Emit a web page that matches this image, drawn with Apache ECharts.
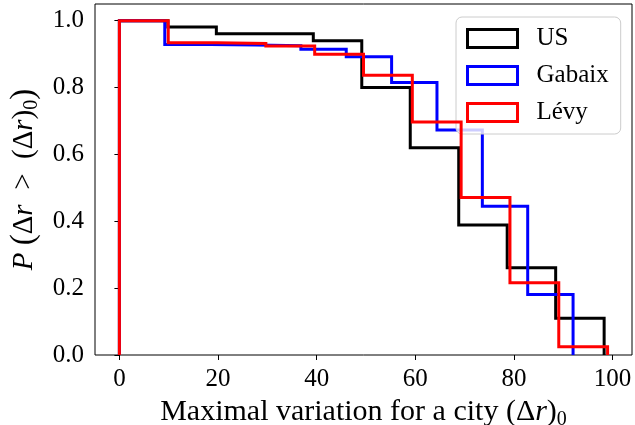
<!DOCTYPE html>
<html>
<head>
<meta charset="utf-8">
<script src="https://cdn.jsdelivr.net/npm/echarts@6/dist/echarts.min.js"></script>
<style>html,body{margin:0;padding:0;background:#fff}#c{width:635px;height:425px}</style>
</head>
<body>
<div id="c"></div>
<script>
// Data (survival histograms, bin edges and heights)
const usEdges = [0, 9.83, 19.66, 29.49, 39.32, 49.15, 58.98, 68.81, 78.64, 88.47, 98.3];
const usValues = [1.0, 0.981, 0.961, 0.961, 0.940, 0.800, 0.620, 0.389, 0.261, 0.110];
const gabaixEdges = [0, 9.2, 18.4, 27.6, 36.8, 46.0, 55.2, 64.4, 73.6, 82.8, 92.0];
const gabaixValues = [1.0, 0.929, 0.927, 0.925, 0.915, 0.892, 0.815, 0.673, 0.445, 0.181];
const levyEdges = [0, 9.9, 19.8, 29.7, 39.6, 49.5, 59.4, 69.3, 79.2, 89.1, 99.0];
const levyValues = [1.0, 0.934, 0.932, 0.924, 0.900, 0.837, 0.697, 0.471, 0.216, 0.025];
const seriesNames = ['US', 'Gabaix', 'Lévy'];
const seriesColors = ['#000000', '#0000ff', '#ff0000'];
const xTicks = [0, 20, 40, 60, 80, 100];
const yTicks = [0, 0.2, 0.4, 0.6, 0.8, 1.0];

function stairs(edges, values) {
  const pts = [[edges[0], 0]];
  for (let i = 0; i < values.length; i++) {
    pts.push([edges[i], values[i]]);
    pts.push([edges[i + 1], values[i]]);
  }
  pts.push([edges[edges.length - 1], 0]);
  return pts;
}

const FONT = 'Liberation Serif';
const allEdges = [usEdges, gabaixEdges, levyEdges];
const allValues = [usValues, gabaixValues, levyValues];

const chart = echarts.init(document.getElementById('c'), null, {renderer: 'canvas'});
function rich(size) {
  const base = {fontFamily: FONT, fontSize: size, color: '#000'};
  return {
    n: base,
    i: Object.assign({}, base, {fontStyle: 'italic'}),
    s: {fontFamily: FONT, fontSize: Math.round(size * 0.68), color: '#000', padding: [Math.round(size * 0.5), 0, 0, 0]},
    b: {fontFamily: FONT, fontSize: Math.round(size * 1.15), color: '#000'}
  };
}
chart.setOption({
  animation: false,
  backgroundColor: '#fff',
  grid: {left: 95, right: 3, top: 4, bottom: 70, outerBoundsMode: 'none', containLabel: false, show: true, borderColor: '#000', borderWidth: 1, backgroundColor: 'transparent'},
  legend: {
    left: 456, top: 17,
    orient: 'vertical',
    icon: 'rect',
    itemWidth: 50, itemHeight: 18,
    itemGap: 12,
    padding: [9, 12, 9, 10],
    backgroundColor: 'rgba(255,255,255,0.8)',
    borderColor: '#cccccc', borderWidth: 1, borderRadius: 6,
    textStyle: {fontFamily: FONT, fontSize: 25, color: '#000', padding: [0, 0, 0, 14]},
    data: seriesNames.map((n, i) => ({name: n, itemStyle: {color: 'rgba(255,255,255,0)', borderColor: seriesColors[i], borderWidth: 3}}))
  },
  xAxis: {
    type: 'value', min: -4.95, max: 103.95,
    axisLine: {show: false},
    splitLine: {show: false},
    axisTick: {show: true, length: 5, lineStyle: {color: '#000', width: 1}, customValues: xTicks},
    axisLabel: {customValues: xTicks, margin: 12, fontFamily: FONT, fontSize: 25, color: '#000'},
    name: '{n|Maximal variation for a city (Δ}{i|r}{n|)}{s|0}',
    nameLocation: 'middle', nameGap: 29,
    nameTextStyle: {rich: rich(30)}
  },
  yAxis: {
    type: 'value', min: 0, max: 1.05,
    axisLine: {show: false},
    splitLine: {show: false},
    axisTick: {show: true, length: 5, lineStyle: {color: '#000', width: 1}, customValues: yTicks},
    axisLabel: {customValues: yTicks, margin: 11, fontFamily: FONT, fontSize: 25, color: '#000', formatter: v => v.toFixed(1)},
    name: '{i|P}{n| }{b|(}{n|Δ}{i|r}{n|  >  (Δ}{i|r}{n|)}{s|0}{b|)}',
    nameLocation: 'middle', nameGap: 52, nameRotate: 90,
    nameTextStyle: {rich: rich(29)}
  },
  series: seriesNames.map((n, i) => ({
    name: n, type: 'line',
    data: stairs(allEdges[i], allValues[i]),
    showSymbol: false, symbol: 'none',
    lineStyle: {color: seriesColors[i], width: 3, join: 'miter'},
    itemStyle: {color: seriesColors[i]},
    z: 2 + i
  }))
});
</script>
</body>
</html>
